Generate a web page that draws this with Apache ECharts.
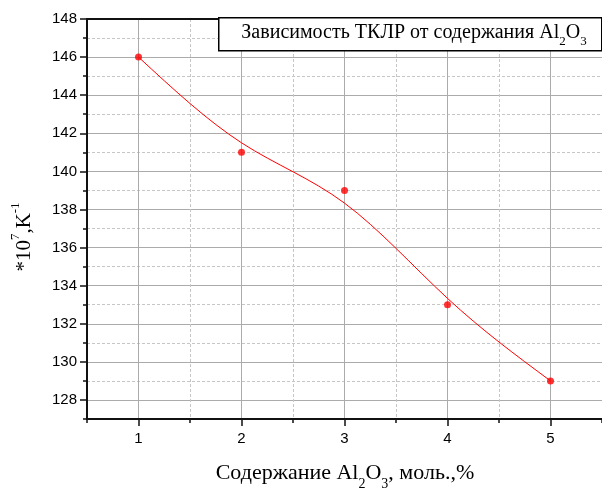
<!DOCTYPE html>
<html>
<head>
<meta charset="utf-8">
<script src="https://cdn.jsdelivr.net/npm/echarts@6/dist/echarts.min.js"></script>
<style>
  html, body { margin: 0; padding: 0; background: #ffffff; overflow: hidden; }
  #chart { width: 602px; height: 488px; }
</style>
</head>
<body>
<div id="chart"></div>
<script>
// Al2O3 content, mol.% and the measured thermal expansion coefficient (*10^7, K^-1)
const alContent = [1, 2, 3, 4, 5];
const tclr = [146, 141, 139, 133, 129];

// Labelled (major) ticks
const xTickLabels = [1, 2, 3, 4, 5];
const yTickLabels = [128, 130, 132, 134, 136, 138, 140, 142, 144, 146, 148];

const SANS = '"Liberation Sans", Arial, sans-serif';
const SERIF = '"Liberation Serif", "Times New Roman", serif';
const CLEAR = 'rgba(0,0,0,0)';
const INK = '#111111';
const MAJOR_GRID = '#ababab';
const MINOR_GRID = '#c6c6c6';

const chart = echarts.init(document.getElementById('chart'), null, { renderer: 'canvas' });

// Uniform cubic B-spline through the measured points (ends clamped by reflection),
// drawn segment by segment as cubic Bezier curves in pixel space.
function renderSpline(params, api) {
  const i = params.dataIndex;
  const n = alContent.length;
  if (i >= n - 1) return null;
  const P = alContent.map((x, k) => api.coord([x, tclr[k]]));
  const at = (k) => {
    if (k < 0) return [2 * P[0][0] - P[1][0], 2 * P[0][1] - P[1][1]];
    if (k > n - 1) return [2 * P[n - 1][0] - P[n - 2][0], 2 * P[n - 1][1] - P[n - 2][1]];
    return P[k];
  };
  const knot = (k) => {
    const a = at(k - 1), b = at(k), c = at(k + 1);
    return [(a[0] + 4 * b[0] + c[0]) / 6, (a[1] + 4 * b[1] + c[1]) / 6];
  };
  const s = knot(i), e = knot(i + 1);
  const p0 = at(i), p1 = at(i + 1);
  return {
    type: 'bezierCurve',
    shape: {
      x1: s[0], y1: s[1],
      x2: e[0], y2: e[1],
      cpx1: (2 * p0[0] + p1[0]) / 3, cpy1: (2 * p0[1] + p1[1]) / 3,
      cpx2: (p0[0] + 2 * p1[0]) / 3, cpy2: (p0[1] + 2 * p1[1]) / 3
    },
    style: { stroke: '#ff0000', fill: null, lineWidth: 1 }
  };
}

const points = alContent.map((x, k) => [x, tclr[k]]);

const hidden = { axisLine: { show: false }, axisTick: { show: false }, axisLabel: { show: false }, splitLine: { show: false } };

const option = {
  backgroundColor: '#ffffff',
  animation: false,
  grid: { left: 87, right: 0, top: 19, bottom: 69, containLabel: false, outerBoundsMode: 'none' },
  xAxis: [
    {
      // bottom axis: labels, minor ticks, solid grid at integers
      type: 'value', min: 0.5, max: 5.5, interval: 0.5, position: 'bottom',
      axisLine: { show: true, onZero: false, lineStyle: { color: INK, width: 2 } },
      axisTick: { show: true, inside: false, length: 4, lineStyle: { color: INK, width: 1.5 } },
      axisLabel: {
        show: true, margin: 12, fontSize: 15, fontFamily: SANS, color: '#000',
        showMinLabel: true, showMaxLabel: true,
        formatter: (v) => (xTickLabels.includes(v) ? String(v) : '')
      },
      splitLine: { show: true, lineStyle: { color: [CLEAR, MAJOR_GRID], width: 1, type: 'solid' } }
    },
    {
      // top frame line and dashed grid at half steps
      type: 'value', min: 0.5, max: 5.5, interval: 0.5, position: 'top',
      axisLine: { show: true, onZero: false, lineStyle: { color: INK, width: 2 } },
      axisTick: { show: false }, axisLabel: { show: false },
      splitLine: { show: true, showMaxLine: false, lineStyle: { color: [MINOR_GRID, CLEAR], width: 1, type: [3, 2] } }
    },
    Object.assign({
      // longer major ticks at integers
      type: 'value', min: 0.5, max: 5.5, position: 'bottom', offset: 0
    }, hidden, {
      axisTick: { show: true, inside: false, length: 7, customValues: xTickLabels, lineStyle: { color: INK, width: 1.5 } }
    })
  ],
  yAxis: [
    {
      type: 'value', min: 127, max: 148, interval: 1, position: 'left',
      axisLine: { show: true, onZero: false, lineStyle: { color: INK, width: 2 } },
      axisTick: { show: true, inside: false, length: 4, lineStyle: { color: INK, width: 1.5 } },
      axisLabel: {
        show: true, margin: 10, fontSize: 15, fontFamily: SANS, color: '#000',
        formatter: (v) => (yTickLabels.includes(v) ? String(v) : '')
      },
      splitLine: { show: true, lineStyle: { color: [CLEAR, MAJOR_GRID], width: 1, type: 'solid' } }
    },
    Object.assign({
      type: 'value', min: 127, max: 148, interval: 1, position: 'left', offset: 0
    }, hidden, {
      splitLine: { show: true, lineStyle: { color: [MINOR_GRID, CLEAR], width: 1, type: [3, 2] } }
    }),
    Object.assign({
      type: 'value', min: 127, max: 148, position: 'left', offset: 0
    }, hidden, {
      axisTick: { show: true, inside: false, length: 7, customValues: yTickLabels, lineStyle: { color: INK, width: 1.5 } }
    })
  ],
  series: [
    {
      type: 'custom', name: 'spline', xAxisIndex: 0, yAxisIndex: 0,
      renderItem: renderSpline, data: points, z: 3, silent: true
    },
    {
      type: 'scatter', name: 'ТКЛР', xAxisIndex: 0, yAxisIndex: 0,
      data: points, symbol: 'circle', symbolSize: 7,
      itemStyle: { color: '#ff0000' }, z: 4
    }
  ],
  graphic: [
    {
      // caption box in the upper right corner of the plot
      type: 'rect', left: 218, top: 17, z: 100, zlevel: 1,
      shape: { x: 0, y: 0, width: 383, height: 33 },
      style: { fill: '#ffffff', stroke: '#000', lineWidth: 1.5 }
    },
    {
      type: 'text', x: 414, y: 33, z: 101, zlevel: 1,
      style: {
        text: '{m|Зависимость ТКЛР от содержания Al}{sub|2}{m|O}{sub|3}',
        align: 'center', verticalAlign: 'middle',
        rich: {
          m: { fontSize: 20, fontFamily: SERIF, fill: '#000', color: '#000' },
          sub: { fontSize: 13, fontFamily: SERIF, fill: '#000', color: '#000', padding: [17, 0, 0, 0] }
        }
      }
    },
    {
      type: 'text', x: 345, y: 473, z: 10,
      style: {
        text: '{m|Содержание Al}{sub|2}{m|O}{sub|3}{m|, моль.,%}',
        align: 'center', verticalAlign: 'middle',
        rich: {
          m: { fontSize: 22, fontFamily: SERIF, fill: '#000', color: '#000' },
          sub: { fontSize: 14, fontFamily: SERIF, fill: '#000', color: '#000', padding: [22, 0, 0, 0] }
        }
      }
    },
    {
      type: 'text', x: 24, y: 237, rotation: Math.PI / 2, z: 10,
      style: {
        text: '{m|*10}{sup|7}{m|,K}{sup|-1}',
        align: 'center', verticalAlign: 'middle',
        rich: {
          m: { fontSize: 21, fontFamily: SERIF, fill: '#000', color: '#000' },
          sup: { fontSize: 13, fontFamily: SERIF, fill: '#000', color: '#000', padding: [0, 0, 16, 0] }
        }
      }
    }
  ]
};

chart.setOption(option);
</script>
</body>
</html>
